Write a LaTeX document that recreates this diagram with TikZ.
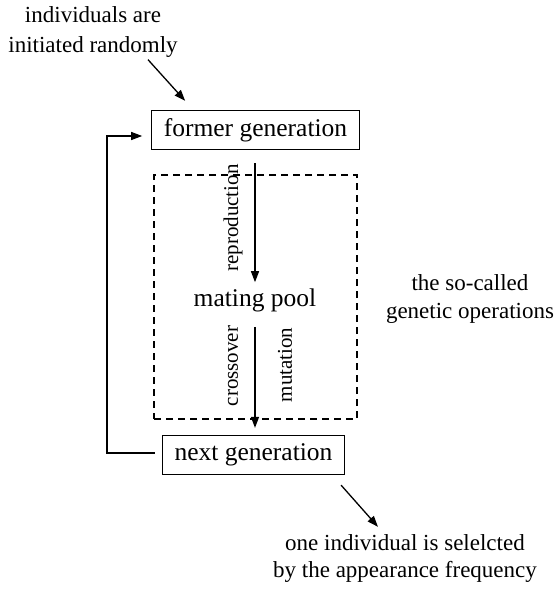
\documentclass[tikz,border=0pt]{standalone}
\usepackage{fontspec}
\setmainfont{Liberation Serif}
\usetikzlibrary{arrows.meta,positioning}

\begin{document}
\begin{tikzpicture}[
    x=1pt, y=-1pt,
    caixa/.style={draw, line width=1.3pt, inner xsep=12pt, minimum height=39pt, font=\fontsize{25.5}{30}\selectfont},
    seta/.style={-{Triangle[length=11pt,width=8pt]}, line width=1.3pt},
    rotulo/.style={rotate=90, inner sep=0pt, font=\fontsize{21}{25}\selectfont},
    nota/.style={align=center, inner sep=0pt},
    tracejado/.style={draw, line width=1.3pt, dash pattern=on 7pt off 5pt, minimum width=203pt, minimum height=244pt}
  ]
    \useasboundingbox (0,0) rectangle (558,592);

    \node[tracejado] (pool) at (255.5,297) {};
    \node[caixa] (former) at (255.5,130) {former generation};
    \node[caixa] (next) at (253.5,455) {next generation};
    \node[inner sep=0pt, font=\fontsize{25.5}{30}\selectfont] (mating) at (255,300) {mating pool};

    \node[rotulo] (repro) at (233,218) {reproduction};
    \node[rotulo] (cross) at (233,366) {crossover};
    \node[rotulo] (mut) at (285,365) {mutation};

    \node[nota, font=\fontsize{23}{30}\selectfont] (init) at (93,32) {individuals are\\initiated randomly};
    \node[nota, font=\fontsize{23}{28}\selectfont] (genop) at (470,299) {the so-called\\genetic operations};
    \node[nota, font=\fontsize{23}{27}\selectfont] (select) at (405,558) {one individual is selelcted\\by the appearance frequency};

    \coordinate (volta) at (107,300);

    \draw[seta, shorten <=13pt, shorten >=6pt] (former.south -| mating.north) -- (mating.north);
    \draw[seta, shorten <=15pt, shorten >=7pt] (mating.south) -- (next.north -| mating.south);
    \draw[seta, shorten <=7pt, shorten >=9pt] ([yshift=2pt]next.west) -| (volta) |- ([yshift=-6pt]former.west);
    \draw[seta] ([xshift=55pt,yshift=-2pt]init.south) -- ([xshift=34pt,yshift=9pt]former.north west);
    \draw[seta] ([xshift=-4pt,yshift=-10pt]next.south east) -- ([xshift=-27pt,yshift=7pt]select.north);
  \end{tikzpicture}
\end{document}
